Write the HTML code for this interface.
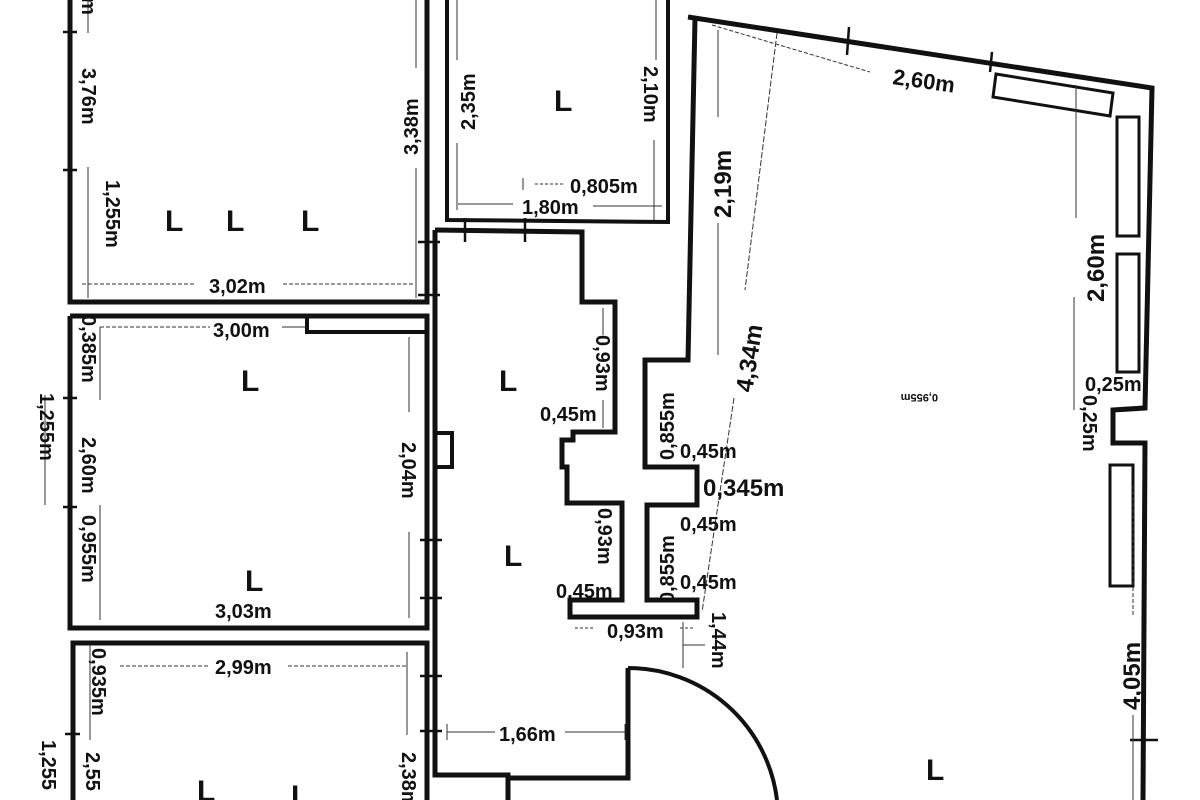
<!DOCTYPE html>
<html><head><meta charset="utf-8"><style>
html,body{margin:0;padding:0;background:#fff;width:1200px;height:800px;overflow:hidden}
svg text{font-family:"Liberation Sans",sans-serif;font-weight:bold;fill:#111}
</style></head><body>
<svg width="1200" height="800" viewBox="0 0 1200 800" xmlns="http://www.w3.org/2000/svg">
<g fill="none" stroke="#111" stroke-width="5" stroke-linejoin="miter">
<polyline points="70,0 70,302 427,302 427,0"/>
<polyline points="70,316 427,316 427,628 70,628 70,316"/>
<polyline points="307,316 307,332 427,332" stroke-width="4"/>
<polyline points="73,800 73,643 427,643 427,800"/>
<polyline points="447,0 447,220 668,222 668,0" stroke-width="4"/>
<polyline points="435,230 435,775 508,775 508,800"/>
<polyline points="435,230 582,232 582,302 615,302 615,432 573,432 573,440 562,440 562,467 567,467 567,503 622,503 622,600 570,600 570,617 697,617 697,600 647,600 647,505 697,505 697,467 645,467 645,360 688,360 695,18"/>
<polyline points="435,433 452,433 452,467 435,467" stroke-width="4"/>
<polyline points="508,778 628,778 628,668"/>
<path d="M628,668 A150,150 0 0 1 777,800" stroke-width="4"/>
<polyline points="688,17 1152,88 1145,408 1113,410 1113,443 1145,443 1143,800"/>
<polygon points="996,74 1113,93 1110,116 993,97" stroke-width="3"/>
<rect x="1117" y="117" width="22" height="119" stroke-width="3"/>
<rect x="1117" y="254" width="22" height="118" stroke-width="3"/>
<rect x="1110" y="465" width="23" height="121" stroke-width="3"/>
</g>
<g stroke="#111" stroke-width="2.5">
<line x1="63" y1="32" x2="77" y2="32"/><line x1="63" y1="170" x2="77" y2="170"/>
<line x1="418" y1="242" x2="440" y2="242"/><line x1="418" y1="295" x2="440" y2="295"/>
<line x1="465" y1="218" x2="465" y2="242"/><line x1="525" y1="218" x2="525" y2="242"/>
<line x1="63" y1="398" x2="77" y2="398"/><line x1="63" y1="507" x2="77" y2="507"/>
<line x1="420" y1="540" x2="442" y2="540"/><line x1="420" y1="598" x2="442" y2="598"/>
<line x1="420" y1="676" x2="442" y2="676"/><line x1="420" y1="731" x2="442" y2="731"/>
<line x1="65" y1="734" x2="80" y2="734"/>
<line x1="849" y1="27" x2="847" y2="55"/><line x1="992" y1="52" x2="990" y2="72"/>
<line x1="1130" y1="740" x2="1158" y2="740"/>
</g>
<g stroke="#333" stroke-width="1">
<line x1="88" y1="0" x2="88" y2="33"/><line x1="88" y1="167" x2="88" y2="298"/>
<line x1="416" y1="0" x2="416" y2="68"/><line x1="416" y1="168" x2="416" y2="298"/>
<line x1="82" y1="284" x2="195" y2="284" stroke-dasharray="4,2"/><line x1="283" y1="284" x2="414" y2="284" stroke-dasharray="4,2"/>
<line x1="100" y1="327" x2="210" y2="327" stroke-dasharray="4,2"/><line x1="282" y1="327" x2="305" y2="327"/>
<line x1="100" y1="327" x2="100" y2="400"/><line x1="100" y1="505" x2="100" y2="620"/>
<line x1="409" y1="337" x2="409" y2="412"/><line x1="409" y1="532" x2="409" y2="618"/>
<line x1="45" y1="395" x2="45" y2="505"/>
<line x1="90" y1="645" x2="90" y2="740"/>
<line x1="120" y1="666" x2="210" y2="666" stroke-dasharray="4,2"/><line x1="288" y1="666" x2="408" y2="666" stroke-dasharray="4,2"/>
<line x1="407" y1="652" x2="407" y2="735"/>
<line x1="457" y1="0" x2="457" y2="60"/><line x1="457" y1="143" x2="457" y2="210"/>
<line x1="458" y1="204" x2="513" y2="204"/><line x1="593" y1="206" x2="662" y2="206"/>
<line x1="656" y1="0" x2="656" y2="60"/><line x1="654" y1="140" x2="654" y2="220"/>
<line x1="535" y1="184" x2="563" y2="184" stroke-dasharray="3,2"/><line x1="523" y1="178" x2="523" y2="190"/>
<line x1="718" y1="30" x2="718" y2="117"/><line x1="718" y1="223" x2="718" y2="355"/>
<line x1="712" y1="25" x2="870" y2="72" stroke-dasharray="4,2"/>
<line x1="777" y1="33" x2="745" y2="290" stroke-dasharray="6,2"/>
<line x1="734" y1="398" x2="702" y2="612" stroke-dasharray="6,2"/>
<line x1="1076" y1="85" x2="1076" y2="218"/><line x1="1074" y1="297" x2="1074" y2="410"/>
<line x1="1133" y1="485" x2="1133" y2="615" stroke-dasharray="4,2"/><line x1="1133" y1="715" x2="1133" y2="800"/>
<line x1="603" y1="308" x2="603" y2="335"/><line x1="603" y1="400" x2="603" y2="428"/>
<line x1="575" y1="628" x2="595" y2="628" stroke-dasharray="3,2"/><line x1="680" y1="628" x2="695" y2="628" stroke-dasharray="3,2"/>
<line x1="683" y1="622" x2="683" y2="668"/><line x1="683" y1="645" x2="705" y2="645"/>
<line x1="447" y1="732" x2="495" y2="732"/><line x1="565" y1="732" x2="625" y2="732"/>
<line x1="447" y1="724" x2="447" y2="740"/><line x1="625" y1="724" x2="625" y2="740"/>
</g>
<g font-size="30">
<text x="165" y="231">L</text><text x="226" y="231">L</text><text x="301" y="231">L</text>
<text x="554" y="111">L</text>
<text x="241" y="391">L</text><text x="245" y="591">L</text>
<text x="197" y="801">L</text><text x="291" y="806">L</text>
<text x="499" y="391">L</text><text x="504" y="566">L</text>
<text x="926" y="780">L</text>
</g>
<g font-size="20">
<text x="209" y="293">3,02m</text>
<text x="213" y="337">3,00m</text>
<text x="215" y="618">3,03m</text>
<text x="215" y="674">2,99m</text>
<text x="570" y="193">0,805m</text>
<text x="522" y="214">1,80m</text>
<text x="540" y="421">0,45m</text>
<text x="680" y="458">0,45m</text>
<text x="680" y="531">0,45m</text>
<text x="680" y="589">0,45m</text>
<text x="556" y="598">0,45m</text>
<text x="607" y="638">0,93m</text>
<text x="499" y="741">1,66m</text>
<text x="1085" y="391">0,25m</text>
<text font-size="24" x="703" y="496">0,345m</text>
<text font-size="22" transform="translate(892,84) rotate(8)">2,60m</text>
<text font-size="11" font-weight="normal" transform="translate(938,394) rotate(180)">0,955m</text>
</g>
<g font-size="20">
<text transform="translate(82,-14) rotate(90)">5m</text>
<text transform="translate(82,68) rotate(90)">3,76m</text>
<text transform="translate(106,180) rotate(90)">1,255m</text>
<text transform="translate(644,66) rotate(90)">2,10m</text>
<text transform="translate(82,315) rotate(90)">0,385m</text>
<text transform="translate(40,393) rotate(90)">1,255m</text>
<text transform="translate(82,437) rotate(90)">2,60m</text>
<text transform="translate(402,442) rotate(90)">2,04m</text>
<text transform="translate(82,515) rotate(90)">0,955m</text>
<text transform="translate(92,648) rotate(90)">0,935m</text>
<text transform="translate(42,740) rotate(90)">1,255</text>
<text transform="translate(86,752) rotate(90)">2,55</text>
<text transform="translate(402,752) rotate(90)">2,38m</text>
<text transform="translate(596,335) rotate(90)">0,93m</text>
<text transform="translate(598,508) rotate(90)">0,93m</text>
<text transform="translate(712,612) rotate(90)">1,44m</text>
<text transform="translate(1083,395) rotate(90)">0,25m</text>
</g>
<g font-size="20">
<text transform="translate(418,155) rotate(-90)">3,38m</text>
<text transform="translate(475,130) rotate(-90)">2,35m</text>
<text transform="translate(674,460) rotate(-90)">0,855m</text>
<text transform="translate(674,603) rotate(-90)">0,855m</text>
<text font-size="24" transform="translate(731,218) rotate(-90)">2,19m</text>
<text font-size="24" transform="translate(1104,302) rotate(-90)">2,60m</text>
<text font-size="24" transform="translate(1140,710) rotate(-90)">4,05m</text>
<text font-size="24" transform="translate(752,393) rotate(-81)">4,34m</text>
</g>
</svg>
</body></html>
